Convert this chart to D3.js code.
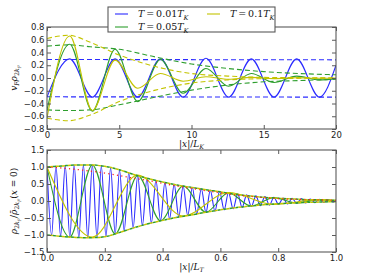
<!DOCTYPE html>
<html><head><meta charset="utf-8">
<script src="https://cdn.jsdelivr.net/npm/d3@7"></script>
<style>
body{margin:0;background:#fff;}
svg{display:block;}
.tick text{font-family:"DejaVu Sans",sans-serif;font-size:8.5px;fill:#222;}
</style></head>
<body><svg id="c" width="374" height="280"></svg>
<script>
// ---------- top panel data (x in units of L_K) ----------
const topX      = [0, 1.57, 3.14, 4.71, 6.28, 7.85, 9.42, 11.0, 12.57, 14.14, 15.71, 17.28, 18.85, 20];
const topBlue   = [-0.30, 0.30, -0.30, 0.30, -0.30, 0.30, -0.30, 0.31, -0.30, 0.30, -0.30, 0.30, -0.30, 0.20];
const topGreen  = [-0.50, 0.53, -0.52, 0.45, -0.37, 0.29, -0.24, 0.15, -0.13, 0.07, -0.07, 0.03, -0.03, -0.01];
const topYellow = [-0.63, 0.66, -0.51, 0.28, -0.16, 0.07, -0.05, 0.02, -0.02, 0.01, -0.01, 0.005, -0.005, 0.0];
const topEnvX   = [0, 1.5, 3, 5, 7.5, 10, 12.5, 15, 17.5, 20];
const greenUp   = [0.50, 0.52, 0.49, 0.45, 0.33, 0.22, 0.15, 0.10, 0.07, 0.05];
const greenLo   = [-0.50, -0.51, -0.50, -0.42, -0.30, -0.19, -0.11, -0.06, -0.04, -0.02];
const yellowUp  = [0.62, 0.67, 0.56, 0.36, 0.18, 0.07, 0.03, 0.01, 0.005, 0.0];
const yellowLo  = [-0.63, -0.67, -0.58, -0.37, -0.19, -0.08, -0.03, -0.01, -0.005, 0.0];
const blueEnvX  = [0, 20];
const blueUp    = [0.29, 0.285];
const blueLo    = [-0.295, -0.30];
const topXTicks = [0, 5, 10, 15, 20];
const topYTicks = [-0.8, -0.6, -0.4, -0.2, 0.0, 0.2, 0.4, 0.6, 0.8];

// ---------- bottom panel data (x in units of L_T) ----------
const botBlueX = [0.000,0.016,0.031,0.047,0.063,0.079,0.094,0.110,0.126,0.141,0.157,0.173,0.188,0.204,0.220,0.236,
  0.251,0.267,0.283,0.298,0.314,0.330,0.346,0.361,0.377,0.393,0.408,0.424,0.440,0.456,0.471,0.487,
  0.503,0.518,0.534,0.550,0.565,0.581,0.597,0.613,0.628,0.644,0.660,0.675,0.691,0.707,0.723,0.738,
  0.754,0.770,0.785,0.801,0.817,0.832,0.848,0.864,0.880,0.895,0.911,0.927,0.942,0.958,0.974,0.990,1.000];
const botBlue = [1.00,-1.01,1.02,-1.04,1.04,-1.06,1.06,-1.08,1.06,-1.08,1.06,-1.07,1.03,-1.05,0.98,-0.97,
  0.92,-0.88,0.83,-0.79,0.75,-0.72,0.67,-0.65,0.61,-0.58,0.55,-0.53,0.49,-0.47,0.44,-0.43,
  0.40,-0.38,0.36,-0.34,0.32,-0.30,0.28,-0.26,0.25,-0.23,0.21,-0.19,0.18,-0.16,0.15,-0.14,
  0.13,-0.12,0.11,-0.10,0.09,-0.09,0.08,-0.07,0.07,-0.06,0.06,-0.05,0.05,-0.04,0.04,-0.03,0.00];
const botGreenX = [0, 0.0785, 0.157, 0.236, 0.314, 0.393, 0.471, 0.550, 0.628, 0.707, 0.785, 0.864, 0.942, 1.0];
const botGreen  = [1.00, -1.06, 1.06, -0.97, 0.75, -0.58, 0.44, -0.33, 0.24, -0.15, 0.10, -0.06, 0.04, -0.015];
const botYellowX = [0, 0.157, 0.314, 0.471, 0.628, 0.785, 0.942, 1.0];
const botYellow  = [1.00, -1.06, 0.76, -0.44, 0.25, -0.10, 0.04, 0.01];
const botEnvX = [0,0.05,0.1,0.15,0.2,0.25,0.3,0.35,0.4,0.45,0.5,0.55,0.6,0.65,0.7,0.75,0.8,0.85,0.9,0.95,1.0];
const envUp = [1.00,1.03,1.06,1.06,1.02,0.92,0.78,0.66,0.56,0.47,0.40,0.33,0.27,0.20,0.15,0.11,0.08,0.06,0.04,0.03,0.02];
const envLo = [-1.00,-1.04,-1.07,-1.08,-1.05,-0.93,-0.79,-0.67,-0.57,-0.48,-0.41,-0.33,-0.26,-0.20,-0.15,-0.11,-0.08,-0.06,-0.04,-0.03,-0.02];
const redDot = [1.00,0.97,0.93,0.88,0.82,0.75,0.67,0.60,0.52,0.44,0.37,0.30,0.24,0.18,0.14,0.10,0.07,0.05,0.04,0.03,0.02];
const botXTicks = [0.0, 0.2, 0.4, 0.6, 0.8, 1.0];
const botYTicks = [-1.5, -1.0, -0.5, 0.0, 0.5, 1.0, 1.5];

const legendLabels = [["0.01","#2b2bff"],["0.05","#2e9e2e"],["0.1","#c4c400"]];

// ---------- drawing ----------
const C = {blue:"#2b2bff", green:"#2e9e2e", yellow:"#c4c400", red:"#ff2020", frame:"#5a5a5a"};
const svg = d3.select("#c");
svg.append("rect").attr("width",374).attr("height",280).attr("fill","#fff");
const L = 47, R = 336;

function zip(xs, ys){ return xs.map((x,i)=>[x, ys[i]]); }
const minus = s => s.replace("-", "\u2212");

function panel(top, bottom, xdom, ydom, xt, yt, fmtX, fmtY, id){
  const x = d3.scaleLinear().domain(xdom).range([L, R]);
  const y = d3.scaleLinear().domain(ydom).range([bottom, top]);
  svg.append("clipPath").attr("id", id).append("rect")
    .attr("x", L).attr("y", top).attr("width", R-L).attr("height", bottom-top);
  const g = svg.append("g").attr("clip-path", `url(#${id})`);
  const ax = (a, tr, fmt) => {
    const s = svg.append("g").attr("transform", tr).call(a.tickFormat(fmt).tickPadding(2.5));
    s.select(".domain").remove();
    s.selectAll(".tick line").attr("stroke", C.frame);
    return s;
  };
  ax(d3.axisBottom(x).tickValues(xt).tickSize(-4), `translate(0,${bottom})`, fmtX);
  ax(d3.axisTop(x).tickValues(xt).tickSize(-4), `translate(0,${top})`, () => "");
  ax(d3.axisLeft(y).tickValues(yt).tickSize(-4), `translate(${L},0)`, fmtY);
  ax(d3.axisRight(y).tickValues(yt).tickSize(-4), `translate(${R},0)`, () => "");
  return {x, y, g};
}

function draw(p, pts, color, opts={}){
  const line = d3.line().x(d=>p.x(d[0])).y(d=>p.y(d[1])).curve(d3.curveMonotoneX);
  const path = p.g.append("path").attr("d", line(pts)).attr("fill","none")
    .attr("stroke", color).attr("stroke-width", opts.w || 1.1);
  if (opts.dash) path.attr("stroke-dasharray", opts.dash);
  if (opts.off) path.attr("stroke-dashoffset", opts.off);
  if (opts.cap) path.attr("stroke-linecap", opts.cap);
  if (opts.op) path.attr("stroke-opacity", opts.op);
}

// top panel
const pt = panel(27, 129, [0,20], [-0.8,0.8], topXTicks, topYTicks,
  d3.format("d"), d => minus(d3.format(".1f")(d)), "clipTop");
draw(pt, zip(topX, topBlue), C.blue);
draw(pt, zip(blueEnvX, blueUp), C.blue, {dash:"5,3"});
draw(pt, zip(blueEnvX, blueLo), C.blue, {dash:"5,3"});
draw(pt, zip(topX, topGreen), C.green);
draw(pt, zip(topEnvX, greenUp), C.green, {dash:"5,3"});
draw(pt, zip(topEnvX, greenLo), C.green, {dash:"5,3"});
draw(pt, zip(topX, topYellow), C.yellow);
draw(pt, zip(topEnvX, yellowUp), C.yellow, {dash:"5,3"});
draw(pt, zip(topEnvX, yellowLo), C.yellow, {dash:"5,3"});

// bottom panel
const pb = panel(150, 252, [0,1], [-1.5,1.5], botXTicks, botYTicks,
  d3.format(".1f"), d => minus(d3.format(".1f")(d)), "clipBot");
draw(pb, zip(botBlueX, botBlue), C.blue);
draw(pb, zip(botGreenX, botGreen), C.green);
draw(pb, zip(botYellowX, botYellow), C.yellow);
draw(pb, zip(botEnvX, envUp), C.green, {dash:"3,3", w:1.5});
draw(pb, zip(botEnvX, envLo), C.green, {dash:"3,3", w:1.5});
draw(pb, zip(botEnvX, envUp), C.yellow, {dash:"3,3", off:3, w:1.5});
draw(pb, zip(botEnvX, envLo), C.yellow, {dash:"3,3", off:3, w:1.5});
draw(pb, zip(botEnvX, redDot), C.red, {dash:"1.2,3.2", w:1.3});

// frames
[[27,129],[150,252]].forEach(([t,b]) => {
  svg.append("rect").attr("x",L).attr("y",t).attr("width",R-L).attr("height",b-t)
    .attr("fill","none").attr("stroke",C.frame).attr("stroke-width",1.1);
});

// math text helper
function math(parent, x, y, parts, size, anchor, rot){
  const t = parent.append("text").attr("x", x).attr("y", y)
    .attr("font-family", "'DejaVu Serif','Liberation Serif',serif")
    .attr("font-size", size).attr("fill", "#111")
    .attr("text-anchor", anchor || "start");
  if (rot) t.attr("transform", `rotate(${rot},${x},${y})`);
  const off = [0, 0.25, 0.42];
  let lev = 0;
  parts.forEach(([s, it, l]) => {
    l = l || 0;
    const ts = t.append("tspan").text(s)
      .attr("font-size", size * Math.pow(0.7, l))
      .attr("dy", ((off[l] - off[lev]) * size).toFixed(2));
    if (it) ts.attr("font-style", "italic");
    lev = l;
  });
  return t;
}

// axis labels
math(svg, 191.5, 147, [["|",0],["x",1],["|/",0],["L",1],["K",1,1]], 9, "middle");
math(svg, 191.5, 270, [["|",0],["x",1],["|/",0],["L",1],["T",1,1]], 9, "middle");
math(svg, 17, 78, [["v",1],["F",1,1],["\u03C1",1],["2",0,1],["k",1,1],["F",1,2]], 9, "middle", -90);
math(svg, 17, 201, [["\u03C1",1],["2",0,1],["k",1,1],["F",1,2],["/",0],["\u03C1\u0304",1],["2",0,1],["k",1,1],["F",1,2],["(",0],["x",1],[" = 0)",0]], 9, "middle", -90);

// legend
const lg = svg.append("g");
lg.append("rect").attr("x",108).attr("y",7).attr("width",167).attr("height",25)
  .attr("fill","#fff").attr("stroke",C.frame).attr("stroke-width",1.1);
const legPos = [[115,14],[115,27],[207,14]];
legendLabels.forEach(([v,col],i) => {
  const [lx, ly] = legPos[i];
  lg.append("line").attr("x1",lx).attr("x2",lx+13).attr("y1",ly).attr("y2",ly)
    .attr("stroke",col).attr("stroke-width",1.1);
  math(lg, lx+23, ly+3.2, [["T",1],["\u2009=\u2009" + v,0],["T",1],["K",1,1]], 9.5, "start");
});
</script></body></html>
